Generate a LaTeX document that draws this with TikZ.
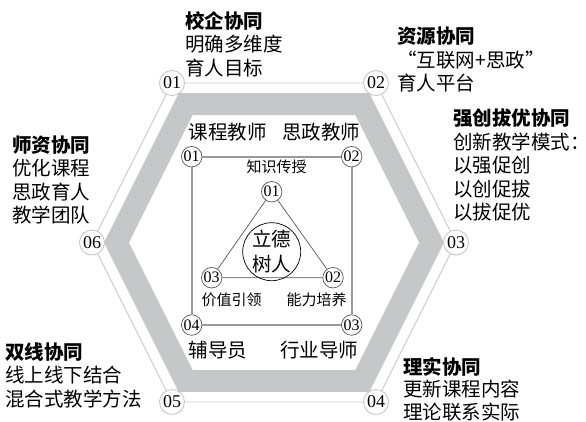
\documentclass[tikz,border=0pt]{standalone}
\usepackage{fontspec}
\newfontfamily\cjk{Noto Sans CJK SC}
\newfontfamily\numf{Liberation Serif}
\definecolor{hexline}{HTML}{C8C8C8}
\definecolor{bandgray}{HTML}{C6C7C9}
\definecolor{sqgray}{HTML}{9A9A9A}
\definecolor{trigray}{HTML}{555555}
\begin{document}
\begin{tikzpicture}[x=1pt,y=-1pt,
  numc/.style={circle, draw=hexline, fill=white, line width=0.9pt, minimum size=25pt, inner sep=0pt, font=\numf\fontsize{18}{18}\selectfont},
  inc/.style={circle, draw=trigray, fill=white, line width=0.7pt, minimum size=20.5pt, inner sep=0pt, font=\numf\fontsize{16}{16}\selectfont},
  body/.style={font=\cjk\fontsize{19.5}{23.5}\selectfont, align=left, anchor=west, inner sep=0pt},
  lab/.style={font=\cjk\fontsize{19.5}{19.5}\selectfont, inner sep=0pt},
  small/.style={font=\cjk\fontsize{15}{15}\selectfont, inner sep=0pt},
  hexedge/.style={draw=hexline, line width=0.9pt},
  sqedge/.style={draw=sqgray, line width=1.8pt},
  triedge/.style={draw=trigray, line width=0.7pt}
]
\useasboundingbox (0,0) rectangle (586,421);
% gray band
\fill[bandgray, even odd rule]
  (178.7,93.1) -- (369.3,93.1) -- (444,242.5) -- (369.3,391.9) -- (178.7,391.9) -- (104,242.5) -- cycle
  (192.7,115) -- (355.3,115) -- (419,242.5) -- (355.3,370) -- (192.7,370) -- (129,242.5) -- cycle;
% outer thin hexagon
\node[numc] (h1) at (172,83) {01};
\node[numc] (h2) at (376,83) {02};
\node[numc] (h3) at (456,242.5) {03};
\node[numc] (h4) at (376,402) {04};
\node[numc] (h5) at (172,402) {05};
\node[numc] (h6) at (92,242.5) {06};
\draw[hexedge] (h1) -- (h2) -- (h3) -- (h4) -- (h5) -- (h6) -- (h1);
% inner square
\node[inc] (s1) at (191.7,156.7) {01};
\node[inc] (s2) at (351.7,156.7) {02};
\node[inc] (s3) at (351.7,325) {03};
\node[inc] (s4) at (191.7,325) {04};
\draw[sqedge] (s1) -- (s2) -- (s3) -- (s4) -- (s1);
% triangle
\node[inc] (t1) at (271.7,191.7) {01};
\node[inc] (t2) at (333,277.7) {02};
\node[inc] (t3) at (211.7,277.7) {03};
\draw[triedge] (t1) -- (t2) -- (t3) -- (t1);
\node[circle, draw=black, line width=0.7pt, minimum size=56pt, inner sep=0pt, align=center,
  font=\cjk\fontsize{19.5}{25}\selectfont] (ctr) at (271.7,251.7) {立德\\树人};
% inner labels
\node[lab] (l1) at (227.5,131.7) {课程教师};
\node[lab] (l2) at (321,131.7) {思政教师};
\node[lab] (l3) at (218,350) {辅导员};
\node[lab] (l4) at (319,350) {行业导师};
\node[small] (k1) at (276.7,166.7) {知识传授};
\node[small] (k2) at (231.7,300) {价值引领};
\node[small] (k3) at (316.7,300) {能力培养};
% outer text blocks
\node[body] (b1) at (185,44) {{\bfseries 校企协同}\\明确多维度\\育人目标};
\node[body] (b2) at (397,59.5) {{\bfseries 资源协同}\\“互联网+思政”\\育人平台};
\node[body] (b3) at (453,165) {{\bfseries 强创拔优协同}\\创新教学模式：\\以强促创\\以创促拔\\以拔促优};
\node[body] (b4) at (12,180) {{\bfseries 师资协同}\\优化课程\\思政育人\\教学团队};
\node[body] (b5) at (5,375) {{\bfseries 双线协同}\\线上线下结合\\混合式教学方法};
\node[body, font=\cjk\fontsize{19.5}{22.5}\selectfont] (b6) at (403,389) {{\bfseries 理实协同}\\更新课程内容\\理论联系实际};
\end{tikzpicture}
\end{document}
